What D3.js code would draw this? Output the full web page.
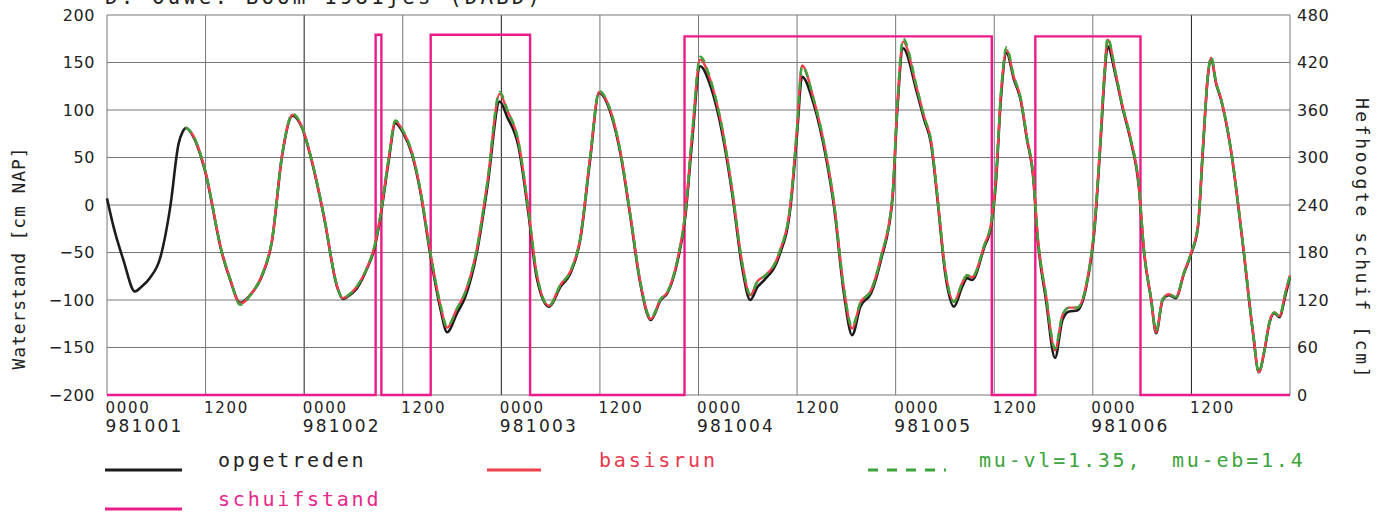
<!DOCTYPE html>
<html>
<head>
<meta charset="utf-8">
<script src="https://cdn.jsdelivr.net/npm/d3@7"></script>
<style>
  body { margin: 0; background: #fff; }
  svg { display: block; }
  .num { font-family: "DejaVu Sans", sans-serif; }
  .mono { font-family: "DejaVu Sans Mono", monospace; }
</style>
</head>
<body>
<script>
// waterstand, uren vanaf 981001 0000
var obsHour = [0, 0.8, 2.0, 3.4, 4.2, 5.2, 6.5, 7.7, 8.7, 9.2,
  9.6, 10.5, 11.9, 14.0, 15.0, 16.2, 17.6, 18.8, 20.1, 21.3,
  22.6, 23.7, 24.9, 26.4, 28.0, 28.7, 29.2, 30.4, 31.6, 32.6,
  33.3, 34.3, 35.1, 36.1, 37.1, 38.1, 39.4, 40.6, 41.4, 42.6,
  43.6, 45.0, 46.3, 47.8, 48.7, 50.1, 51.3, 52.3, 53.8, 55.2,
  56.4, 57.6, 58.8, 59.9, 61.3, 62.5, 63.7, 64.9, 66.2, 67.4,
  68.2, 69.4, 70.4, 71.2, 72.2, 73.5, 74.9, 76.1, 77.3, 78.3,
  79.2, 80.0, 81.8, 83.2, 84.0, 84.6, 86.0, 87.5, 88.5, 89.7,
  90.7, 91.7, 93.0, 94.2, 95.6, 96.2, 96.9, 98.6, 99.5, 100.3,
  101.1, 102.0, 103.1, 104.1, 104.7, 105.3, 106.8, 107.6, 108.2, 108.8,
  109.5, 110.4, 111.2, 112.0, 112.7, 113.3, 114.3, 115.4, 116.3, 117.1,
  118.1, 119.2, 120.2, 121.0, 121.4, 121.8, 122.8, 123.6, 124.6, 125.6,
  126.2, 127.1, 127.7, 128.5, 129.3, 130.1, 131.1, 131.9, 132.8, 133.4,
  134.0, 134.4, 135.0, 135.6, 136.8, 138.2, 139.5, 140.2, 140.9, 141.5,
  142.1, 142.7, 143.5, 144.0];

var obsLevel = [7, -23, -58, -91, -86, -77, -55, -2, 64, 77,
  81, 72, 37, -51, -79, -103, -93, -76, -37, 51,
  94, 82, 47, -12, -86, -99, -97, -88, -68, -44,
  -12, 47, 86, 75, 54, 16, -55, -110, -134, -114,
  -97, -51, 19, 109, 93, 61, -9, -76, -107, -86,
  -72, -37, 47, 118, 97, 54, -12, -82, -121, -100,
  -93, -61, -12, 65, 146, 124, 75, 12, -65, -100,
  -86, -79, -54, -2, 75, 135, 107, 51, -2, -93,
  -137, -107, -93, -58, 5, 100, 165, 118, 89, 65,
  5, -70, -107, -86, -77, -79, -44, -23, 23, 111,
  160, 132, 111, 68, 33, -37, -100, -161, -121, -112,
  -111, -86, -26, 75, 132, 167, 135, 103, 68, 19,
  -47, -100, -135, -100, -95, -98, -72, -53, -23, 58,
  135, 154, 128, 111, 58, -37, -135, -176, -153, -124,
  -114, -118, -93, -76];

// berekeningen beginnen bij 9.6 uur
var simHour = obsHour.slice(10);

var basisLevel = [82, 73, 38, -50, -78, -104, -93, -75, -36, 52,
  95, 83, 48, -11, -85, -98, -96, -86, -67, -42,
  -10, 50, 88, 77, 56, 18, -52, -106, -129, -109,
  -92, -47, 24, 117, 100, 66, -5, -72, -106, -84,
  -70, -35, 50, 119, 99, 56, -10, -80, -120, -99,
  -92, -59, -8, 72, 153, 130, 80, 16, -60, -95,
  -80, -75, -51, 2, 82, 147, 112, 55, 2, -88,
  -130, -103, -90, -55, 8, 106, 172, 122, 92, 68,
  8, -66, -102, -82, -74, -76, -42, -20, 27, 116,
  163, 134, 113, 70, 35, -34, -95, -153, -116, -108,
  -108, -84, -22, 80, 138, 174, 138, 105, 70, 21,
  -45, -99, -134, -99, -94, -97, -71, -52, -21, 60,
  137, 155, 129, 112, 59, -36, -134, -176, -152, -123,
  -113, -117, -90, -74];

var muLevel = [82, 73, 38, -50, -78, -105, -93, -75, -36, 52,
  96, 83, 48, -11, -85, -98, -96, -86, -67, -42,
  -10, 50, 89, 77, 56, 18, -52, -105, -128, -109,
  -92, -47, 24, 119, 101, 66, -5, -72, -106, -84,
  -70, -35, 50, 120, 99, 56, -10, -80, -119, -99,
  -92, -59, -8, 72, 156, 131, 80, 16, -60, -94,
  -80, -75, -51, 2, 82, 146, 112, 55, 2, -88,
  -128, -103, -90, -55, 8, 106, 175, 123, 92, 68,
  8, -66, -102, -82, -74, -76, -42, -20, 27, 116,
  166, 135, 113, 70, 35, -34, -95, -151, -116, -108,
  -108, -84, -22, 80, 138, 176, 138, 105, 70, 21,
  -45, -99, -132, -99, -94, -97, -71, -52, -21, 60,
  137, 156, 129, 112, 59, -36, -134, -176, -152, -123,
  -113, -117, -90, -74];

// schuifstand (hefhoogte), stapfunctie
var schuifHour = [0, 32.7, 33.4, 39.4, 51.5, 70.3, 107.7, 113.0, 125.8, 144];
var schuifHeight = [0, 455, 0, 455, 0, 453, 0, 453, 0, 0];

var hourTicks = [0, 12, 24, 36, 48, 60, 72, 84, 96, 108, 120, 132];
var hourLabels = ["0000", "1200", "0000", "1200", "0000", "1200",
                  "0000", "1200", "0000", "1200", "0000", "1200"];
var dateTicks = [0, 24, 48, 72, 96, 120];
var dateLabels = ["981001", "981002", "981003", "981004", "981005", "981006"];
var levelTicks = [-200, -150, -100, -50, 0, 50, 100, 150, 200];
var heightTicks = [0, 60, 120, 180, 240, 300, 360, 420, 480];

var margin = {left: 107, right: 103, top: 15, bottom: 117};
var W = 1393, H = 512;
var width = W - margin.left - margin.right;
var height = H - margin.top - margin.bottom;

var svg = d3.select("body").append("svg")
    .attr("width", W)
    .attr("height", H);

var g = svg.append("g")
    .attr("transform", "translate(" + margin.left + "," + margin.top + ")");

var x = d3.scaleLinear().domain([0, 144]).range([0, width]);
var yL = d3.scaleLinear().domain([-200, 200]).range([height, 0]);
var yR = d3.scaleLinear().domain([0, 480]).range([height, 0]);

// titel (bovenkant valt buiten beeld, zoals in het origineel)
svg.append("text")
    .attr("class", "mono")
    .attr("x", 105)
    .attr("y", 4)
    .attr("font-size", 21)
    .attr("letter-spacing", 3)
    .attr("fill", "#222")
    .text("D. Ouwe. Boom 1981jes (DABD)");

// grid
var darker = [24, 48, 132];
g.selectAll("line.vgrid")
    .data(hourTicks.concat([144]))
    .enter().append("line")
    .attr("class", "vgrid")
    .attr("x1", d => x(d)).attr("x2", d => x(d))
    .attr("y1", 0).attr("y2", height)
    .attr("stroke", d => darker.indexOf(d) >= 0 ? "#1a1a1a" : "#777")
    .attr("stroke-width", 1);

g.selectAll("line.hgrid")
    .data(levelTicks)
    .enter().append("line")
    .attr("class", "hgrid")
    .attr("x1", 0).attr("x2", width)
    .attr("y1", d => yL(d)).attr("y2", d => yL(d))
    .attr("stroke", "#777")
    .attr("stroke-width", 1);

// assen
var leftAxis = g.append("g")
    .attr("class", "num")
    .call(d3.axisLeft(yL).tickValues(levelTicks).tickSize(0).tickPadding(12));
leftAxis.select(".domain").remove();
leftAxis.selectAll("text")
    .attr("font-size", 16)
    .attr("letter-spacing", 0.6)
    .attr("fill", "#222");

var rightAxis = g.append("g")
    .attr("class", "num")
    .attr("transform", "translate(" + width + ",0)")
    .call(d3.axisRight(yR).tickValues(heightTicks).tickSize(0).tickPadding(7));
rightAxis.select(".domain").remove();
rightAxis.selectAll("text")
    .attr("font-size", 16)
    .attr("letter-spacing", 0.6)
    .attr("fill", "#222");

var hourAxis = g.append("g")
    .attr("class", "num")
    .attr("transform", "translate(0," + height + ")")
    .call(d3.axisBottom(x).tickValues(hourTicks).tickSize(0)
        .tickFormat((d, i) => hourLabels[i]));
hourAxis.select(".domain").remove();
hourAxis.selectAll("text")
    .attr("x", -2).attr("y", 18).attr("dy", 0)
    .style("text-anchor", "start")
    .attr("font-size", 15)
    .attr("letter-spacing", 1.7)
    .attr("fill", "#222");

var dateAxis = g.append("g")
    .attr("class", "num")
    .attr("transform", "translate(0," + height + ")")
    .call(d3.axisBottom(x).tickValues(dateTicks).tickSize(0)
        .tickFormat((d, i) => dateLabels[i]));
dateAxis.select(".domain").remove();
dateAxis.selectAll("text")
    .attr("x", -2).attr("y", 37).attr("dy", 0)
    .style("text-anchor", "start")
    .attr("font-size", 17)
    .attr("letter-spacing", 2.2)
    .attr("fill", "#222");

// as-titels
svg.append("text")
    .attr("class", "mono")
    .attr("transform", "translate(25,258) rotate(-90)")
    .attr("text-anchor", "middle")
    .attr("font-size", 18)
    .attr("letter-spacing", 0.9)
    .attr("fill", "#222")
    .text("Waterstand [cm NAP]");

svg.append("text")
    .attr("class", "mono")
    .attr("transform", "translate(1356,239) rotate(90)")
    .attr("text-anchor", "middle")
    .attr("font-size", 18)
    .attr("letter-spacing", 2.6)
    .attr("fill", "#222")
    .text("Hefhoogte schuif [cm]");

// lijnen
var levelLine = d3.line()
    .x(d => x(d[0]))
    .y(d => yL(d[1]))
    .curve(d3.curveMonotoneX);

var schuifLine = d3.line()
    .x(d => x(d[0]))
    .y(d => yR(d[1]))
    .curve(d3.curveStepAfter);

g.append("path")
    .datum(schuifHour.map((h, i) => [h, schuifHeight[i]]))
    .attr("d", schuifLine)
    .attr("fill", "none")
    .attr("stroke", "#ec1b8a")
    .attr("stroke-width", 2.4);

g.append("path")
    .datum(obsHour.map((h, i) => [h, obsLevel[i]]))
    .attr("d", levelLine)
    .attr("fill", "none")
    .attr("stroke", "#1c1c1c")
    .attr("stroke-width", 2.6);

g.append("path")
    .datum(simHour.map((h, i) => [h, basisLevel[i]]).filter(d => d[1] !== undefined))
    .attr("d", levelLine)
    .attr("fill", "none")
    .attr("stroke", "#f0404c")
    .attr("stroke-width", 2.4);

g.append("path")
    .datum(simHour.map((h, i) => [h, muLevel[i]]).filter(d => d[1] !== undefined))
    .attr("d", levelLine)
    .attr("fill", "none")
    .attr("stroke", "#3ba43a")
    .attr("stroke-width", 2.4)
    .attr("stroke-dasharray", "8,6");

// legenda
var legendNames = ["opgetreden", "basisrun", "mu-vl=1.35,  mu-eb=1.4", "schuifstand"];
var legendColors = ["#1c1c1c", "#f0404c", "#3ba43a", "#ec1b8a"];
var legendTextColors = ["#222", "#e8384c", "#3ba43a", "#e8268c"];
var legendDash = [null, null, "10,9", null];
var legendPos = [[105, 182, 218, 470], [487, 541, 599, 470], [868, 946, 979, 470], [105, 182, 218, 509]];

var legend = svg.append("g").attr("class", "legend");
var item = legend.selectAll("g")
    .data(legendNames)
    .enter().append("g");

item.append("line")
    .attr("x1", (d, i) => legendPos[i][0])
    .attr("x2", (d, i) => legendPos[i][1])
    .attr("y1", (d, i) => legendPos[i][3])
    .attr("y2", (d, i) => legendPos[i][3])
    .attr("stroke", (d, i) => legendColors[i])
    .attr("stroke-width", 3)
    .attr("stroke-dasharray", (d, i) => legendDash[i]);

item.append("text")
    .attr("class", "mono")
    .attr("x", (d, i) => legendPos[i][2])
    .attr("y", (d, i) => legendPos[i][3] - 3)
    .attr("font-size", 20)
    .attr("letter-spacing", 2.8)
    .attr("fill", (d, i) => legendTextColors[i])
    .style("white-space", "pre")
    .text(d => d);
</script>
</body>
</html>
